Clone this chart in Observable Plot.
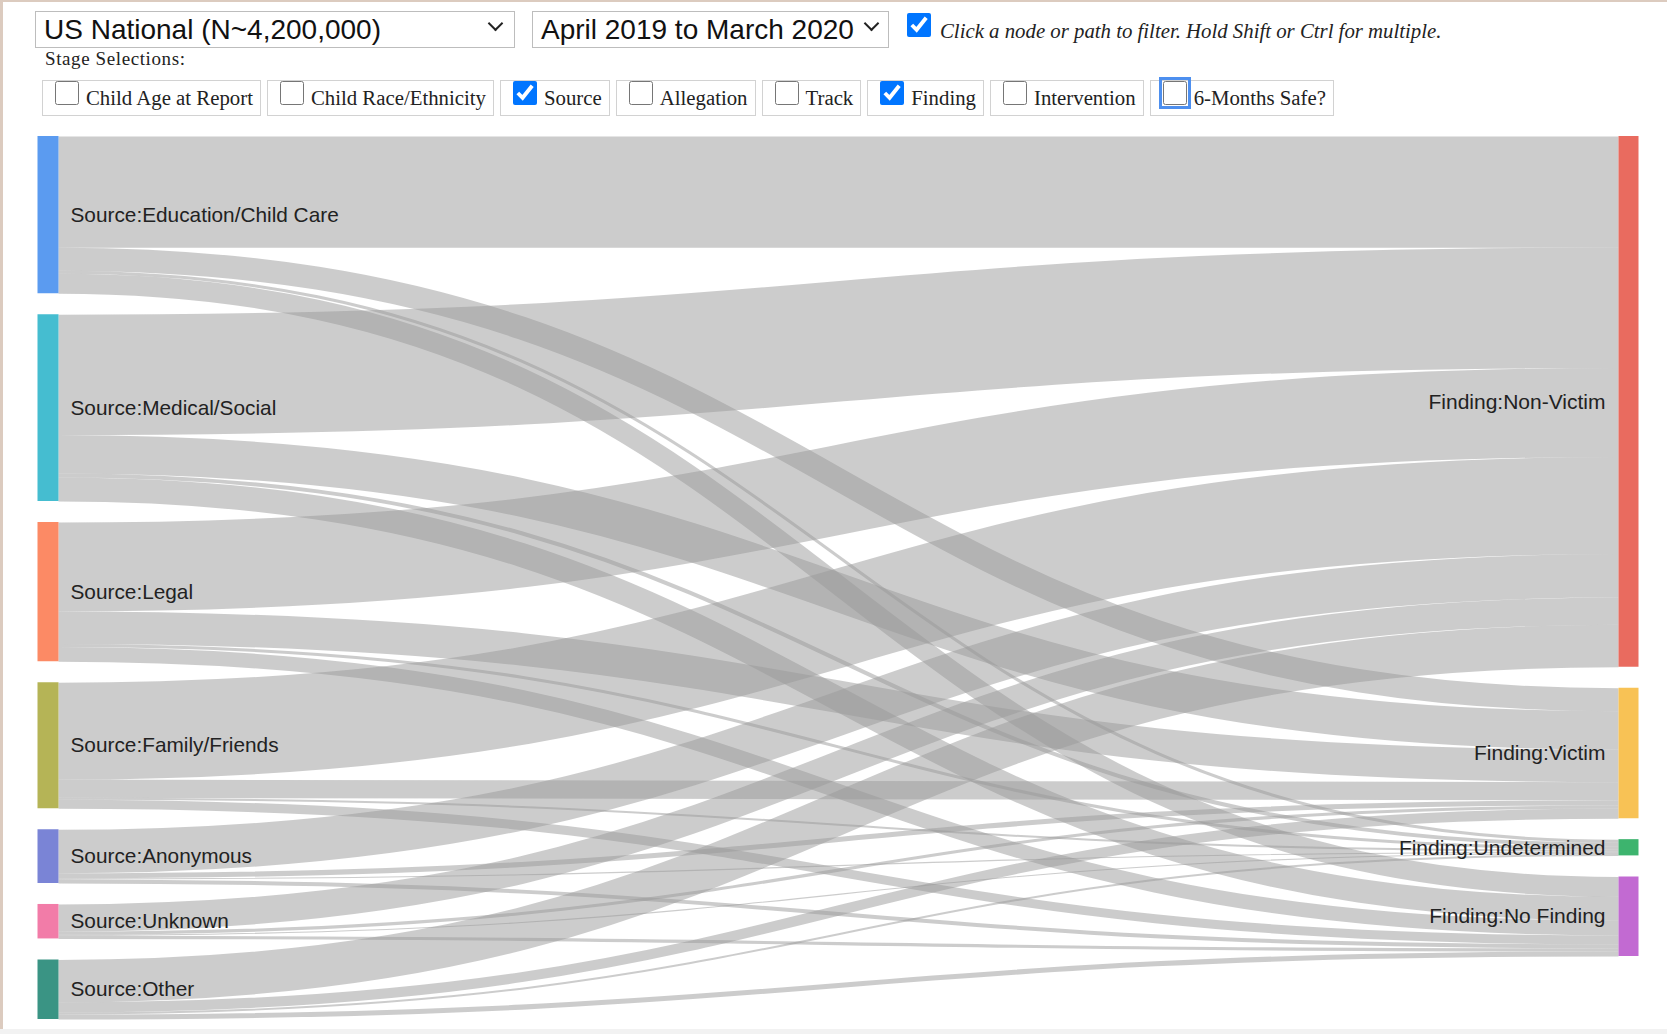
<!DOCTYPE html>
<html>
<head>
<meta charset="utf-8">
<script src="https://cdn.jsdelivr.net/npm/d3@7"></script>
<script src="https://cdn.jsdelivr.net/npm/@observablehq/plot@0.6"></script>
<style>
html, body { margin: 0; padding: 0; background: #fff; }
body { width: 1667px; height: 1034px; position: relative; overflow: hidden; font-family: "Liberation Serif", "Times New Roman", serif; }
.frameL { position: absolute; left: 0; top: 0; width: 3px; height: 1034px; background: #dccbbf; }
.frameT { position: absolute; left: 0; top: 0; width: 1667px; height: 2px; background: #dccbbf; }
.frameB { position: absolute; left: 0; bottom: 0; width: 1667px; height: 5px; background: #f2f2f2; }
.sel { position: absolute; top: 11px; height: 37px; border: 1px solid #bdbdbd; box-sizing: border-box; font-family: "Liberation Sans", Arial, sans-serif; font-size: 28px; line-height: 35px; padding-left: 8px; color: #111; white-space: nowrap; }
.chev { position: absolute; top: 6px; width: 11px; height: 11px; border-right: 2.5px solid #222; border-bottom: 2.5px solid #222; transform: rotate(45deg); box-sizing: border-box; }
.topcb { position: absolute; left: 907px; top: 13px; width: 24px; height: 24px; margin: 0; }
.hint { position: absolute; left: 940px; top: 19px; font-style: italic; font-size: 20.8px; line-height: 24px; color: #222; white-space: nowrap; }
.stage { position: absolute; left: 45px; top: 49px; font-size: 19px; line-height: 20px; color: #222; letter-spacing: 0.6px; }
.row { position: absolute; left: 42px; top: 80px; display: flex; }
.row label { display: inline-flex; align-items: flex-start; height: 36px; box-sizing: border-box; border: 1px solid #d2d2d2; padding: 0 7px 0 12px; margin-right: 6px; font-size: 20.8px; color: #222; white-space: nowrap; }
.row input { width: 24px; height: 24px; margin: 0 7px 0 0; }
.row span { margin-top: 5px; line-height: 24px; }
.row input.focus { outline: 3px solid #4d8fef; outline-offset: 1px; border-radius: 4px; }
#chart { position: absolute; left: 0; top: 120px; }
</style>
</head>
<body>
<div class="frameL"></div>
<div class="frameT"></div>
<div class="frameB"></div>

<div class="sel" style="left:35px;width:480px;">US National (N~4,200,000)<div class="chev" style="left:454px;"></div></div>
<div class="sel" style="left:532px;width:357px;">April 2019 to March 2020<div class="chev" style="left:333px;"></div></div>
<input type="checkbox" class="topcb" checked>
<div class="hint">Click a node or path to filter. Hold Shift or Ctrl for multiple.</div>
<div class="stage">Stage Selections:</div>
<div class="row" id="row"></div>
<div id="chart"></div>

<script>
// ---- UI stage list ----
const stages = ["Child Age at Report", "Child Race/Ethnicity", "Source", "Allegation", "Track", "Finding", "Intervention", "6-Months Safe?"];
const stageChecked = [false, false, true, false, false, true, false, false];

// ---- Sankey data (children, thousands) ----
const sources = ["Source:Education/Child Care", "Source:Medical/Social", "Source:Legal", "Source:Family/Friends", "Source:Anonymous", "Source:Unknown", "Source:Other"];
const findings = ["Finding:Non-Victim", "Finding:Victim", "Finding:Undetermined", "Finding:No Finding"];
// flow from each source (same order as sources) into each finding
const toNonVictim     = [616, 667, 493, 537, 241, 151, 235];
const toVictim        = [128, 213, 180, 101, 28, 17, 56];
const toUndetermined  = [17, 22, 17, 11, 6, 6, 11];
const toNoFinding     = [110, 133, 81, 50, 22, 17, 28];
const sourceColors  = ["#5b9bf0", "#45bdd0", "#fc8a65", "#b5b456", "#7a84d6", "#f27ca8", "#3a9484"];
const findingColors = ["#e96b5f", "#f8c255", "#3db46e", "#c26ad2"];

// build UI row
const row = document.getElementById("row");
stages.forEach((s, i) => {
  const lab = document.createElement("label");
  const cb = document.createElement("input");
  cb.type = "checkbox"; cb.checked = stageChecked[i];
  if (i === stages.length - 1) cb.className = "focus";
  const sp = document.createElement("span"); sp.textContent = s;
  lab.appendChild(cb); lab.appendChild(sp); row.appendChild(lab);
});

// ---- sankey layout in value units ----
const width = 1667, height = 914;
const mt = 16, mb = 15, ml = 58, mr = 49;
const flows = [toNonVictim, toVictim, toUndetermined, toNoFinding];
const links = [];
sources.forEach((s, i) => findings.forEach((f, j) => {
  if (flows[j][i] > 0) links.push({source: i, target: j, value: flows[j][i]});
}));
const total = d3.sum(links, d => d.value);
const H = height - mt - mb;
const padPx = 21;
const ky = (H - (sources.length - 1) * padPx) / total; // px per unit
const pad = padPx / ky;
const D = H / ky;

let yy = 0;
const leftNodes = sources.map((name, i) => {
  const v = d3.sum(links.filter(l => l.source === i), l => l.value);
  const n = {name, y0: yy, y1: yy + v, color: sourceColors[i]};
  yy += v + pad; return n;
});
yy = 0;
const rightNodes = findings.map((name, j) => {
  const v = d3.sum(links.filter(l => l.target === j), l => l.value);
  const n = {name, y0: yy, y1: yy + v, color: findingColors[j]};
  yy += v + pad; return n;
});
leftNodes.forEach((n, i) => {
  let y = n.y0;
  links.filter(l => l.source === i).sort((a, b) => a.target - b.target)
    .forEach(l => { l.sy = y + l.value / 2; y += l.value; });
});
rightNodes.forEach((n, j) => {
  let y = n.y0;
  links.filter(l => l.target === j).sort((a, b) => a.source - b.source)
    .forEach(l => { l.ty = y + l.value / 2; y += l.value; });
});

const chart = Plot.plot({
  width, height,
  marginTop: mt, marginBottom: mb, marginLeft: ml, marginRight: mr,
  x: {domain: [0, 1], axis: null},
  y: {domain: [0, D], reverse: true, axis: null},
  color: {type: "identity"},
  style: {fontFamily: "'Liberation Sans', Arial, sans-serif", background: "transparent", overflow: "visible"},
  marks: [
    Plot.link(links, {
      x1: d => 0, y1: "sy", x2: d => 1, y2: "ty",
      curve: "bump-x",
      stroke: "#999", strokeOpacity: 0.5,
      strokeWidth: d => d.value * ky
    }),
    Plot.ruleX(leftNodes, {x: d => 0, y1: "y0", y2: "y1", stroke: d => d.color, strokeWidth: 21, dx: -10.5}),
    Plot.ruleX(rightNodes, {x: d => 1, y1: "y0", y2: "y1", stroke: d => d.color, strokeWidth: 20, dx: 10}),
    Plot.text(leftNodes, {x: d => 0, y: d => (d.y0 + d.y1) / 2, text: "name", textAnchor: "start", dx: 12, fontSize: 20.8, fill: "#222"}),
    Plot.text(rightNodes, {x: d => 1, y: d => (d.y0 + d.y1) / 2, text: "name", textAnchor: "end", dx: -13, fontSize: 21, fill: "#222"})
  ]
});
document.getElementById("chart").appendChild(chart);
</script>
</body>
</html>
